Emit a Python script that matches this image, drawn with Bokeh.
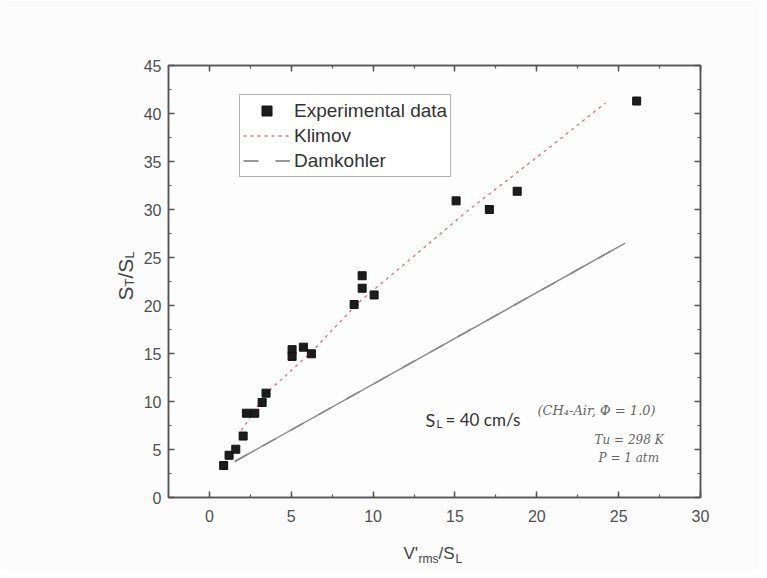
import math
from bokeh.plotting import figure
from bokeh.models import (Range1d, LinearAxis, SingleIntervalTicker, Legend, LegendItem, Label)
from bokeh.embed import file_html
from bokeh.resources import INLINE

# ---------------- data ----------------
exp_x = [0.87, 1.2, 1.61, 2.06, 2.26, 2.77, 3.22, 3.46, 5.05, 5.05, 5.74, 6.23,
         8.84, 9.33, 9.33, 10.06, 15.07, 17.1, 18.8, 26.1]
exp_y = [3.33, 4.4, 5.03, 6.4, 8.78, 8.78, 9.9, 10.87, 15.4, 14.7, 15.66, 14.97,
         20.1, 21.8, 23.1, 21.1, 30.9, 30.0, 31.9, 41.3]

klimov_x = [1.95, 3.5, 6.2, 9.1, 11.7, 15.8, 20.5, 24.2]
klimov_y = [7.0, 10.9, 15.1, 20.3, 24.0, 29.9, 36.1, 41.1]

damk_x = [1.55, 25.4]
damk_y = [3.75, 26.5]

x_ticks_interval = 5
y_ticks_interval = 5

# ---------------- layout (canvas pixels) ----------------
W, H = 759, 570
ML, MR, MT, MB = 168, 59, 65, 73
XR = (-2.5, 30)
YR = (0, 45)
FW = W - ML - MR
FH = H - MT - MB

def px2x(px):
    return XR[0] + (px - ML) / FW * (XR[1] - XR[0])

def py2y(py):
    return YR[1] - (py - MT) / FH * (YR[1] - YR[0])

BG = "#fbfbfb"
AX = "#555555"
FONT = "Liberation Sans"

p = figure(width=W, height=H, output_backend="svg", toolbar_location=None,
           x_range=Range1d(*XR), y_range=Range1d(*YR),
           min_border_left=ML, min_border_right=MR, min_border_top=MT, min_border_bottom=MB,
           background_fill_color="#fdfdfd", border_fill_color=BG)
p.grid.visible = False
p.outline_line_color = AX
p.outline_line_width = 1.5

def style_axis(ax, labels=True, standoff=8):
    ax.axis_line_color = AX
    ax.axis_line_width = 1.5
    ax.major_tick_in = 6
    ax.major_tick_out = 0
    ax.minor_tick_in = 3
    ax.minor_tick_out = 0
    ax.major_tick_line_color = AX
    ax.minor_tick_line_color = AX
    ax.major_tick_line_width = 1.5
    ax.minor_tick_line_width = 1.2
    ax.major_label_text_font = FONT
    ax.major_label_text_font_size = "16px"
    ax.major_label_text_color = "#505050" if labels else None
    ax.major_label_standoff = standoff

p.xaxis.ticker = SingleIntervalTicker(interval=x_ticks_interval, num_minor_ticks=2)
p.yaxis.ticker = SingleIntervalTicker(interval=y_ticks_interval, num_minor_ticks=2)
style_axis(p.xaxis[0], True, 12)
style_axis(p.yaxis[0], True, 7)

top = LinearAxis(ticker=SingleIntervalTicker(interval=x_ticks_interval, num_minor_ticks=2))
right = LinearAxis(ticker=SingleIntervalTicker(interval=y_ticks_interval, num_minor_ticks=2))
style_axis(top, False)
style_axis(right, False)
p.add_layout(top, "above")
p.add_layout(right, "right")

# ---------------- glyphs ----------------
# dashed twin of the Damkohler line (hidden under the solid one) gives the legend symbol
r_damk_leg = p.line(damk_x, damk_y, line_color="#777777", line_width=1.5, line_dash="15 17")
r_damk = p.line(damk_x, damk_y, line_color="#8a8a8a", line_width=1.5)
r_klim = p.line(klimov_x, klimov_y, line_color="#e06a80", line_width=1.3, line_dash="3 4")
r_exp = p.scatter(exp_x, exp_y, marker="square", size=8,
                  fill_color="#1c1c1c", line_color="#111111", line_width=1)

legend = Legend(items=[LegendItem(label="Experimental data", renderers=[r_exp]),
                       LegendItem(label="Klimov", renderers=[r_klim]),
                       LegendItem(label="Damkohler", renderers=[r_damk_leg])],
                location=(239 - ML, (MT + FH) - 177))
legend.label_text_font = FONT
legend.label_text_font_size = "19px"
legend.label_text_color = "#333333"
legend.border_line_color = "#666666"
legend.border_line_width = 1.2
legend.background_fill_color = "#ffffff"
legend.background_fill_alpha = 1.0
legend.padding = 3
legend.margin = 0
legend.spacing = 0
legend.glyph_width = 47
legend.glyph_height = 25
legend.label_height = 25
legend.label_standoff = 4
p.add_layout(legend, "center")

# ---------------- text helpers ----------------
def lab_data(text, px, py, size, angle=0.0, color="#444444", font=FONT, style="normal"):
    p.add_layout(Label(x=px2x(px), y=py2y(py), text=text, angle=angle,
                       text_font=font, text_font_size=f"{size}px", text_color=color,
                       text_font_style=style, text_align="left", text_baseline="alphabetic"))

def lab_side(text, px, py, size, angle=0.0, color="#444444", font=FONT):
    # placed in a side panel so that it is not clipped to the frame
    p.add_layout(Label(x=px, y=py, x_units="canvas", y_units="canvas", text=text, angle=angle,
                       text_font=font, text_font_size=f"{size}px", text_color=color,
                       text_align="left", text_baseline="alphabetic"), "left")

# y title: S_T/S_L rotated
a = math.pi / 2
lab_side("S", 125, 300, 21, a)
lab_side("T", 129, 286, 13, a)
lab_side("/S", 125, 278, 21, a)
lab_side("L", 129, 258, 13, a)

# x title: V'_rms/S_L
lab_side("V'", 403, 553, 17)
lab_side("rms", 418, 558, 12)
lab_side("/S", 438, 553, 17)
lab_side("L", 455, 558, 12)

# ---------------- annotations ----------------
lab_data("S", 425, 419, 18, font="Lato", color="#333333")
lab_data("L", 436, 423, 11, font="Lato", color="#333333")
lab_data("= 40 cm/s", 445, 419, 17, font="Lato", color="#333333")

lab_data("(CH\u2084-Air, \u03a6 = 1.0)", 537, 410, 13, font="DejaVu Serif", color="#666666", style="italic")
lab_data("Tu = 298 K", 594, 439, 12, font="DejaVu Serif", color="#666666", style="italic")
lab_data("P = 1 atm", 598, 457, 12, font="DejaVu Serif", color="#666666", style="italic")

open("out.html", "w").write(file_html(p, INLINE))
